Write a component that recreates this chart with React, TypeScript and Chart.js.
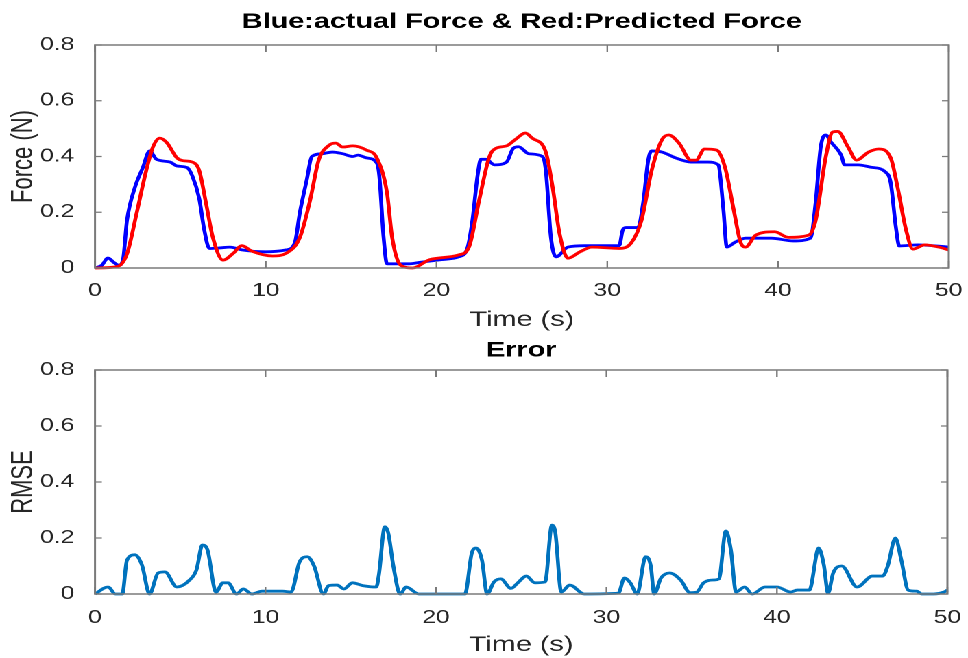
import React, { useEffect, useRef } from "react";
import { Chart, registerables } from "chart.js";

Chart.register(...registerables);

// ---------- data ----------
const titleTop = "Blue:actual Force & Red:Predicted Force";
const titleBottom = "Error";
const xLabel = "Time (s)";
const yLabelTop = "Force (N)";
const yLabelBottom = "RMSE";

const xTicks = [0, 10, 20, 30, 40, 50];
const yTicks = [0, 0.2, 0.4, 0.6, 0.8];

const actualTime = [0, 0.4, 0.76, 1.1, 1.4, 1.64, 1.87, 2.34, 2.8, 3.2, 3.6, 4.4, 4.8, 5.4, 5.7, 6.1, 6.4, 6.7, 7.3, 7.9, 8.6, 10, 11.2, 11.7, 12, 12.4, 12.7, 13.3, 13.9, 14.5, 15.1, 15.4, 15.9, 16.5, 16.65, 16.9, 17.1, 18.4, 19, 20.3, 21.3, 21.8, 22.1, 22.4, 22.6, 22.9, 23.4, 24.1, 24.5, 24.8, 25.4, 26.2, 26.4, 26.7, 27, 27.7, 28.7, 30.7, 30.9, 31.1, 31.8, 32.1, 32.4, 32.6, 33.2, 34, 34.9, 35.9, 36.5, 36.8, 37.0, 37.5, 38.1, 39.6, 40.9, 41.9, 42.2, 42.5, 42.8, 43.1, 43.7, 43.9, 44.7, 45.4, 46.3, 46.6, 46.9, 47.1, 48.2, 50];
const actualForce = [0, 0.01, 0.036, 0.02, 0.01, 0.03, 0.17, 0.29, 0.36, 0.42, 0.39, 0.38, 0.366, 0.36, 0.33, 0.25, 0.136, 0.07, 0.072, 0.075, 0.065, 0.058, 0.065, 0.09, 0.2, 0.316, 0.4, 0.41, 0.416, 0.41, 0.4, 0.405, 0.395, 0.377, 0.33, 0.11, 0.015, 0.015, 0.02, 0.03, 0.04, 0.07, 0.17, 0.33, 0.39, 0.39, 0.37, 0.38, 0.43, 0.435, 0.41, 0.4, 0.35, 0.11, 0.04, 0.075, 0.08, 0.08, 0.135, 0.145, 0.145, 0.233, 0.387, 0.42, 0.416, 0.395, 0.38, 0.38, 0.37, 0.21, 0.075, 0.093, 0.107, 0.107, 0.097, 0.107, 0.233, 0.434, 0.477, 0.452, 0.405, 0.37, 0.37, 0.362, 0.344, 0.305, 0.147, 0.079, 0.083, 0.075];

const predTime = [0, 1.3, 1.87, 2.45, 3.0, 3.4, 3.8, 4.2, 4.8, 5.15, 5.7, 6.1, 6.5, 6.9, 7.5, 8.1, 8.6, 9.2, 10.4, 11.2, 12, 12.6, 13.1, 13.7, 14.1, 14.5, 15.1, 15.9, 16.5, 17.1, 17.4, 17.9, 18.6, 19.6, 21.3, 21.9, 22.5, 23.1, 23.5, 24.1, 24.6, 25.2, 25.6, 26.4, 26.8, 27.2, 27.7, 28.4, 29.1, 30.7, 31.4, 32, 32.6, 33.2, 33.6, 34.2, 34.9, 35.2, 35.7, 36.4, 36.9, 37.4, 37.8, 38.1, 38.7, 39.8, 40.6, 41.8, 42.2, 42.8, 43.2, 43.5, 44.1, 44.6, 45.3, 45.9, 46.6, 47, 47.5, 47.9, 48.6, 49.4, 50];
const predForce = [0, 0.005, 0.05, 0.2, 0.35, 0.435, 0.466, 0.45, 0.395, 0.385, 0.38, 0.35, 0.233, 0.11, 0.028, 0.053, 0.08, 0.06, 0.043, 0.053, 0.11, 0.244, 0.387, 0.44, 0.448, 0.434, 0.438, 0.423, 0.395, 0.27, 0.11, 0.01, 0.0, 0.03, 0.047, 0.075, 0.244, 0.4, 0.43, 0.438, 0.46, 0.484, 0.466, 0.416, 0.29, 0.125, 0.035, 0.058, 0.075, 0.07, 0.09, 0.17, 0.35, 0.46, 0.477, 0.448, 0.387, 0.387, 0.427, 0.423, 0.36, 0.21, 0.093, 0.075, 0.118, 0.13, 0.11, 0.118, 0.17, 0.4, 0.488, 0.49, 0.434, 0.387, 0.416, 0.427, 0.395, 0.29, 0.136, 0.068, 0.083, 0.075, 0.065];

const errTime = [0, 0.76, 1.2, 1.6, 1.87, 2.34, 2.75, 3.2, 3.7, 4.1, 4.8, 5.55, 5.95, 6.3, 6.6, 7.1, 7.5, 7.8, 8.3, 8.7, 9.2, 9.8, 11, 11.5, 12, 12.45, 12.85, 13.4, 13.7, 14.2, 14.6, 15.1, 15.7, 16.5, 16.65, 17.0, 17.2, 17.5, 17.9, 18.25, 19, 21.7, 22.1, 22.35, 22.7, 23.0, 23.4, 23.8, 24.4, 24.8, 25.3, 25.8, 26.4, 26.8, 27.0, 27.35, 27.85, 28.7, 30.7, 31.05, 31.4, 31.8, 32.3, 32.6, 32.8, 33.2, 33.7, 34.35, 34.9, 35.3, 35.7, 36.3, 36.6, 37.0, 37.3, 37.6, 38.1, 38.55, 39.3, 40.0, 40.8, 41.2, 41.9, 42.45, 42.75, 43.0, 43.3, 43.8, 44.7, 45.6, 46.2, 46.5, 46.95, 47.3, 47.7, 48.2, 48.5, 49.2, 49.8, 50];
const errValue = [0, 0.025, 0, 0, 0.12, 0.14, 0.104, 0, 0.075, 0.079, 0.025, 0.05, 0.086, 0.175, 0.157, 0.007, 0.04, 0.04, 0, 0.018, 0, 0.01, 0.01, 0.007, 0.115, 0.133, 0.1, 0, 0.03, 0.032, 0.018, 0.04, 0.03, 0.025, 0.068, 0.24, 0.218, 0.1, 0, 0.025, 0, 0, 0.146, 0.164, 0.12, 0, 0.043, 0.054, 0.02, 0.04, 0.064, 0.04, 0.043, 0.246, 0.22, 0.007, 0.032, 0, 0.003, 0.057, 0.04, 0, 0.133, 0.1, 0, 0.057, 0.075, 0.05, 0.005, 0.007, 0.04, 0.05, 0.054, 0.225, 0.157, 0.007, 0.025, 0, 0.025, 0.025, 0.007, 0.014, 0.014, 0.164, 0.104, 0.003, 0.075, 0.1, 0.025, 0.064, 0.064, 0.1, 0.2, 0.12, 0.014, 0.01, 0, 0, 0.007, 0.014];

// ---------- layout ----------
const W = 706;
const SX = 968 / W;
const FONT = "'Liberation Sans', Arial, sans-serif";
const TEXT = "#262626";

const pts = (xs: number[], ys: number[]) => xs.map((x, i) => ({ x, y: ys[i] }));

const framePlugin = {
  id: "matlabFrame",
  afterDatasetsDraw(chart: any) {
    const { ctx, chartArea, scales } = chart;
    const { left, right, top, bottom } = chartArea;
    ctx.save();
    ctx.strokeStyle = "#7a7a7a";
    ctx.lineWidth = 1.5;
    ctx.strokeRect(left, top, right - left, bottom - top);
    ctx.lineWidth = 1.2;
    ctx.beginPath();
    xTicks.forEach((v) => {
      const px = scales.x.getPixelForValue(v);
      ctx.moveTo(px, bottom);
      ctx.lineTo(px, bottom - 7);
      ctx.moveTo(px, top);
      ctx.lineTo(px, top + 7);
    });
    yTicks.forEach((v) => {
      const py = scales.y.getPixelForValue(v);
      ctx.moveTo(left, py);
      ctx.lineTo(left + 5, py);
      ctx.moveTo(right, py);
      ctx.lineTo(right - 5, py);
    });
    ctx.stroke();
    // axes title, centred over the plot area (MATLAB style)
    const t = chart.options.plugins.matlabFrame;
    if (t && t.text) {
      ctx.fillStyle = "#000";
      ctx.font = `bold 21px ${FONT}`;
      ctx.textAlign = "center";
      ctx.textBaseline = "middle";
      ctx.fillText(t.text, (left + right) / 2, t.y);
    }
    ctx.restore();
  },
};

function makeOptions(p: {
  title: string;
  titleY: number;
  topPad: number;
  yTitle: string;
  xHeight: number;
  xTickPad: number;
  xTitlePadBottom: number;
}) {
  return {
    animation: false,
    responsive: false,
    maintainAspectRatio: false,
    devicePixelRatio: 2,
    layout: { padding: { left: 0, right: 12.4, top: p.topPad, bottom: 0 } },
    elements: { point: { radius: 0 } },
    plugins: {
      legend: { display: false },
      tooltip: { enabled: false },
      title: { display: false },
      matlabFrame: { text: p.title, y: p.titleY },
    },
    scales: {
      x: {
        type: "linear",
        min: 0,
        max: 50,
        afterBuildTicks: (s: any) => {
          s.ticks = xTicks.map((v) => ({ value: v }));
        },
        afterFit: (s: any) => {
          s.height = p.xHeight;
        },
        grid: { display: false },
        border: { display: false },
        ticks: {
          padding: p.xTickPad,
          autoSkip: false,
          maxRotation: 0,
          color: TEXT,
          font: { family: FONT, size: 18 },
          callback: (v: any) => String(v),
        },
        title: {
          display: true,
          text: xLabel,
          color: TEXT,
          font: { family: FONT, size: 21 },
          padding: { top: 0, bottom: p.xTitlePadBottom },
        },
      },
      y: {
        type: "linear",
        min: 0,
        max: 0.8,
        afterBuildTicks: (s: any) => {
          s.ticks = yTicks.map((v) => ({ value: v }));
        },
        afterFit: (s: any) => {
          s.width = 69.3;
        },
        grid: { display: false },
        border: { display: false },
        ticks: {
          padding: 7,
          color: TEXT,
          font: { family: FONT, size: 18 },
          callback: (v: any) => (v === 0 ? "0" : Number(v).toFixed(1)),
        },
        title: {
          display: true,
          text: p.yTitle,
          color: TEXT,
          font: { family: FONT, size: 22 },
          padding: { top: 4, bottom: 0 },
        },
      },
    },
  };
}

export default function App() {
  const topRef = useRef<HTMLCanvasElement>(null);
  const botRef = useRef<HTMLCanvasElement>(null);

  useEffect(() => {
    const lineDs = (label: string, data: any, color: string) => ({
      label,
      data,
      borderColor: color,
      backgroundColor: color,
      borderWidth: 2.8,
      pointRadius: 0,
      cubicInterpolationMode: "monotone",
      fill: false,
      clip: 4,
    });

    const c1 = new Chart(topRef.current as HTMLCanvasElement, {
      type: "line",
      data: {
        datasets: [
          lineDs("Predicted", pts(predTime, predForce), "#ff0000"),
          lineDs("Actual", pts(actualTime, actualForce), "#0000ff"),
        ],
      },
      options: makeOptions({
        title: titleTop,
        titleY: 22,
        topPad: 45,
        yTitle: yLabelTop,
        xHeight: 70,
        xTickPad: 4,
        xTitlePadBottom: 5.4,
      }) as any,
      plugins: [framePlugin],
    } as any);

    const c2 = new Chart(botRef.current as HTMLCanvasElement, {
      type: "line",
      data: {
        datasets: [lineDs("RMSE", pts(errTime, errValue), "#0072BD")],
      },
      options: makeOptions({
        title: titleBottom,
        titleY: 12.6,
        topPad: 32,
        yTitle: yLabelBottom,
        xHeight: 64,
        xTickPad: 5,
        xTitlePadBottom: 0.4,
      }) as any,
      plugins: [framePlugin],
    } as any);

    return () => {
      c1.destroy();
      c2.destroy();
    };
  }, []);

  return (
    <div
      style={{
        position: "absolute",
        left: 0,
        top: 0,
        width: W,
        height: 658,
        background: "#fff",
        transform: `scaleX(${SX})`,
        transformOrigin: "0 0",
      }}
    >
      <canvas ref={topRef} width={W} height={338} style={{ display: "block" }} />
      <canvas ref={botRef} width={W} height={320} style={{ display: "block" }} />
    </div>
  );
}
